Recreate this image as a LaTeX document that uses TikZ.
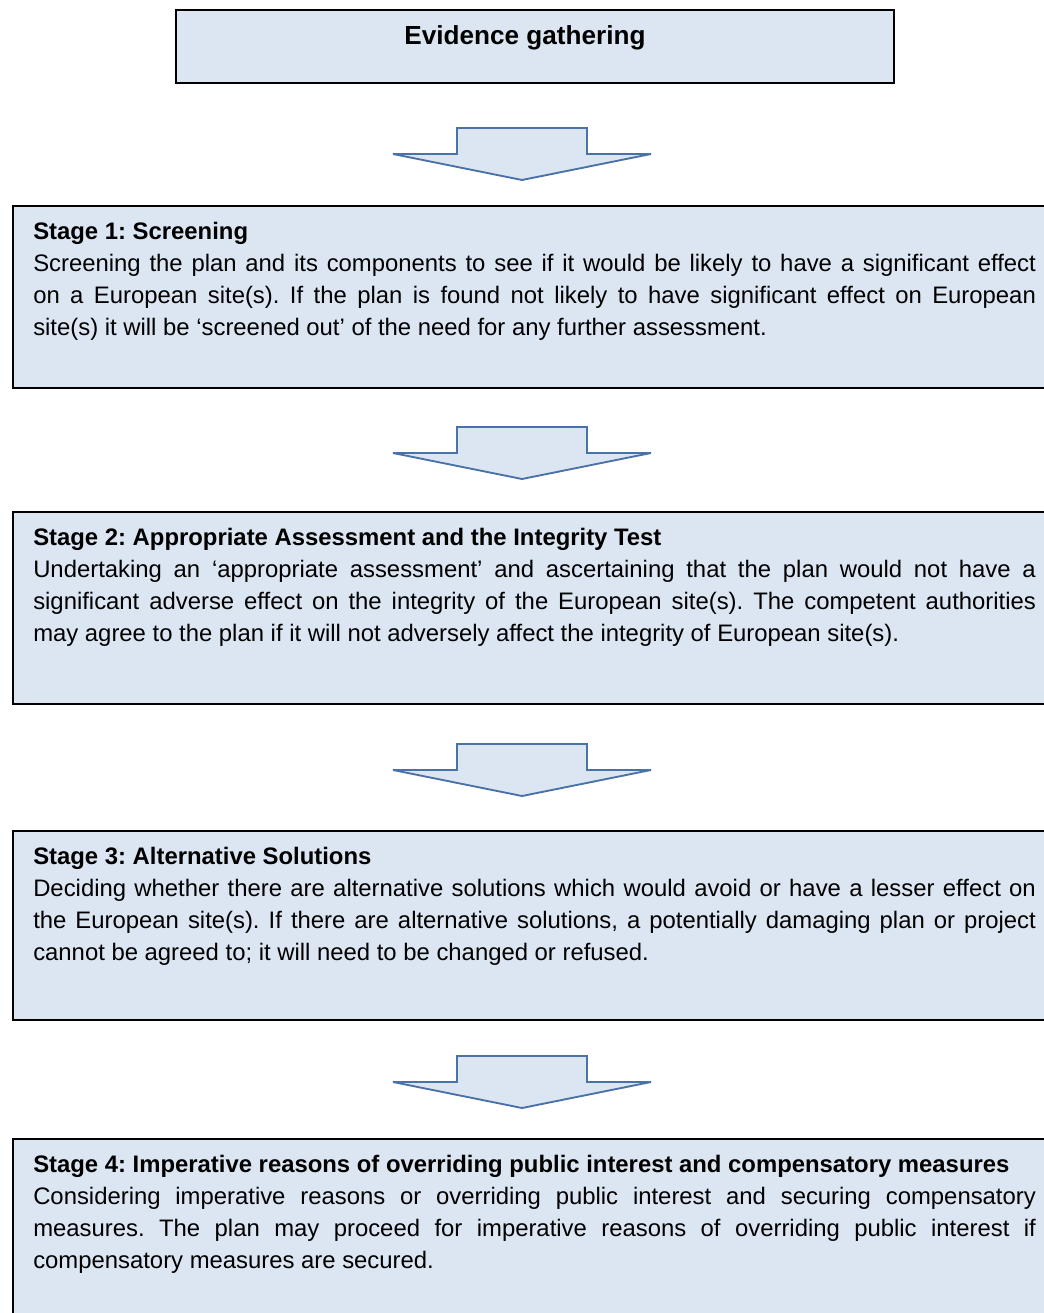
\documentclass[tikz,border=0pt]{standalone}
\usepackage{fontspec}
\setmainfont{Liberation Sans}
\usetikzlibrary{positioning}
\definecolor{boxfill}{HTML}{DCE6F2}
\definecolor{arrowline}{HTML}{4A72A8}
\frenchspacing

\begin{document}
\begin{tikzpicture}[x=0.75pt,y=-0.75pt,
    stagebox/.style={draw=black,fill=boxfill,line width=1.4pt,rectangle,
      anchor=north west,inner sep=0pt,minimum width=784pt},
    stagetext/.style={anchor=base west,inner sep=0pt,text width=752pt,
      align=justify,font=\fontsize{17.9}{24}\selectfont},
    downarrow/.style={draw=arrowline,fill=boxfill,line width=1.4pt,line join=miter}]
  \useasboundingbox (0,0) rectangle (1044,1313);

  % evidence box
  \node (ev) [stagebox,minimum width=538.5pt,minimum height=54.75pt] at (175,9) {};
  \node (evt) [anchor=base,inner sep=0pt,font=\fontsize{19.6}{24}\selectfont\bfseries]
    at (525,45) {Evidence gathering};

  % stages
  \node (s1) [stagebox,minimum height=136.5pt] at (12,205) {};
  \node (s1t) [stagetext] at (33,239.5) {\textbf{Stage 1: Screening}\\
    Screening the plan and its components to see if it would be likely to have a significant effect\linebreak
    on a European site(s). If the plan is found not likely to have significant effect on European\linebreak
    site(s) it will be ‘screened out’ of the need for any further assessment.};

  \node (s2) [stagebox,minimum height=144pt] at (12,511) {};
  \node (s2t) [stagetext] at (33,545.5) {\textbf{Stage 2: Appropriate Assessment and the Integrity Test}\\
    Undertaking an ‘appropriate assessment’ and ascertaining that the plan would not have a\linebreak
    significant adverse effect on the integrity of the European site(s). The competent authorities\linebreak
    may agree to the plan if it will not adversely affect the integrity of European site(s).};

  \node (s3) [stagebox,minimum height=141.75pt] at (12,830) {};
  \node (s3t) [stagetext] at (33,864.5) {\textbf{Stage 3: Alternative Solutions}\\
    Deciding whether there are alternative solutions which would avoid or have a lesser effect on\linebreak
    the European site(s). If there are alternative solutions, a potentially damaging plan or project\linebreak
    cannot be agreed to; it will need to be changed or refused.};

  \node (s4) [stagebox,minimum height=150pt] at (12,1138) {};
  \node (s4t) [stagetext] at (33,1172.5) {\textbf{Stage 4: Imperative reasons of overriding public interest and compensatory measures}\\
    Considering imperative reasons or overriding public interest and securing compensatory\linebreak
    measures. The plan may proceed for imperative reasons of overriding public interest if\linebreak
    compensatory measures are secured.};

  % block arrows between the boxes
  \foreach \t [count=\i] in {128,427,744,1056} {
    \coordinate (a\i) at (522,\t);
    \draw[downarrow] (a\i) ++(-65,0) -- ++(130,0) -- ++(0,26) -- ++(64,0)
      -- ++(-129,26) -- ++(-129,-26) -- ++(64,0) -- cycle;
  }
\end{tikzpicture}
\end{document}
